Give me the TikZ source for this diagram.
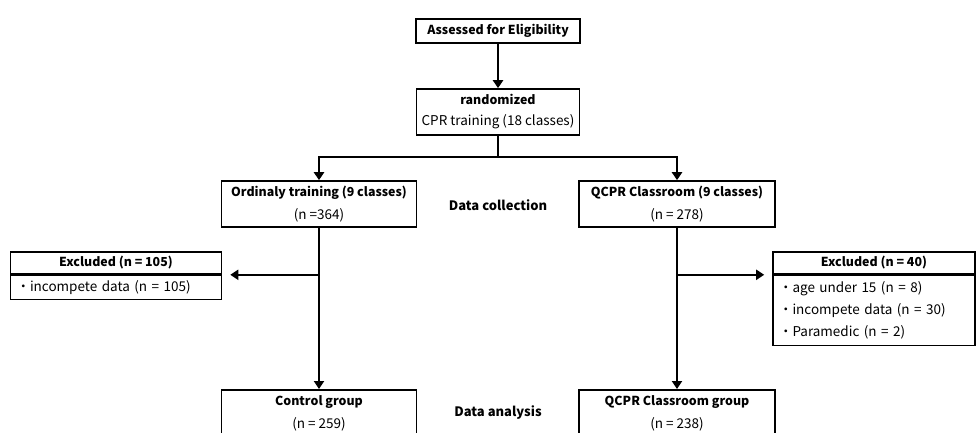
\documentclass[tikz,border=0pt]{standalone}
\usepackage{fontspec}
\setmainfont{Noto Sans CJK JP}
\usetikzlibrary{arrows.meta, positioning}

% bold headings are set a bit smaller than the counts
\newcommand{\hd}[1]{{\fontsize{12.4}{16}\selectfont\bfseries #1}}

\tikzset{
  box/.style={draw, line width=1.6pt, minimum height=46pt, inner sep=0pt, align=center,
    font=\fontsize{13.5}{23}\selectfont},
  head/.style={draw, line width=1.6pt, minimum height=22pt, inner sep=0pt,
    font=\fontsize{13.5}{16}\selectfont},
  rows/.style={draw, line width=1.6pt, inner xsep=6pt, inner ysep=0pt, align=left,
    font=\fontsize{13.5}{22}\selectfont},
  stage/.style={font=\fontsize{13}{16}\selectfont\bfseries},
  link/.style={line width=2.5pt},
  arr/.style={link, -{Triangle[width=10pt,length=8pt]}}
}

\begin{document}
\begin{tikzpicture}[x=1pt, y=-1pt]
    \clip (0,0) rectangle (978,433);

    % Enrollment
    \node[box, minimum width=164pt, minimum height=24pt] (elig) at (498,31) {\hd{Assessed for Eligibility}};
    \node[box, minimum width=163pt, font=\fontsize{13.5}{21}\selectfont] (rand) at (498,112) {\hd{randomized}\\CPR training (18 classes)};

    % Allocation
    \node[box, minimum width=195pt] (ord) at (319,204) {\hd{Ordinaly training (9 classes)}\\(n =364)};
    \node[box, minimum width=196pt] (qcpr) at (677,204) {\hd{QCPR Classroom (9 classes)}\\(n = 278)};
    \node[stage] (dcoll) at (498,205) {Data collection};

    % Exclusions
    \node[head, minimum width=211pt] (exclLhead) at (116,263) {\hd{Excluded (n = 105)}};
    \node[rows, text width=199pt, minimum height=24pt, below=0pt of exclLhead] (exclLbody) {・incompete data (n = 105)};
    \node[head, minimum width=202pt] (exclRhead) at (874,263) {\hd{Excluded (n = 40)}};
    \node[rows, text width=190pt, minimum height=70pt, below=0pt of exclRhead] (exclRbody) {・age under 15 (n = 8)\\・incompete data (n = 30)\\・Paramedic (n = 2)};

    % Analysis
    \node[box, minimum width=195pt, minimum height=48pt, anchor=north] (ctrl) at (319,389) {\hd{Control group}\\(n = 259)};
    \node[box, minimum width=196pt, minimum height=48pt, anchor=north] (qgrp) at (677,389) {\hd{QCPR Classroom group}\\(n = 238)};
    \node[stage] (danal) at (498,413) {Data analysis};

    % Connectors
    \draw[arr] (elig) -- (rand);
    \coordinate (split) at (498,157);
    \draw[link] (rand.south) -- (split);
    \draw[arr] (split) -| (ord.north);
    \draw[arr] (split) -| (qcpr.north);
    \draw[arr] (ord) -- (ctrl);
    \draw[arr] (qcpr) -- (qgrp);
    \coordinate (brL) at (ord.south |- exclLbody.north);
    \coordinate (brR) at (qcpr.south |- exclRbody.north);
    \draw[arr, shorten >=8pt] (brL) -- (exclLbody.north east);
    \draw[arr, shorten >=8pt] (brR) -- (exclRbody.north west);
\end{tikzpicture}
\end{document}
